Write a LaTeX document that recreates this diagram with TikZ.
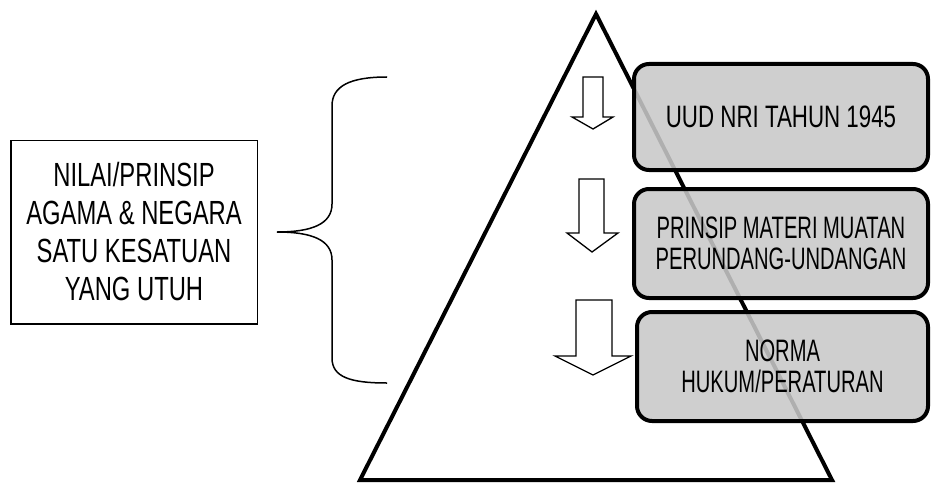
\documentclass[tikz,border=0pt]{standalone}
\usepackage{fontspec}
\setmainfont{Liberation Sans}[FakeStretch=0.65]
\newfontfamily\wideA{Liberation Sans}[FakeStretch=0.72]
\newfontfamily\wideB{Liberation Sans}[FakeStretch=0.71]
\begin{document}
\begin{tikzpicture}[x=1pt,y=-1pt,
  levelbox/.style={draw=black, line width=4pt, rounded corners=15pt,
     fill={rgb,255:red,200;green,200;blue,200}, fill opacity=0.88, text opacity=1,
     align=center, font=\fontsize{31}{31}\selectfont, inner sep=0pt},
  leftbox/.style={draw=black, line width=1.5pt, align=center,
     font=\wideB\fontsize{33.5}{38}\selectfont, inner sep=0pt},
  blockarrow/.style={draw=black, line width=1.3pt, fill=white, line join=miter},
  bracepath/.style={draw=black, line width=1.5pt}]
\useasboundingbox (0,0) rectangle (933,484);
% pyramid
\draw[line width=4pt] (596,14) -- (832,480) -- (360,480) -- cycle;
% level boxes
\node[levelbox, minimum width=294pt, minimum height=106pt, font=\wideA\fontsize{31}{31}\selectfont] (b1) at (781,117) {UUD NRI TAHUN 1945};
\node[levelbox, minimum width=294pt, minimum height=109pt] (b2) at (781,243.5) {PRINSIP MATERI MUATAN\\PERUNDANG-UNDANGAN};
\node[levelbox, minimum width=291pt, minimum height=109pt] (b3) at (782.5,366.5) {NORMA\\HUKUM/PERATURAN};
% left box
\node[leftbox, minimum width=246.5pt, minimum height=183.5pt] (lb) at (134,232) {NILAI/PRINSIP\\AGAMA \& NEGARA\\SATU KESATUAN\\YANG UTUH};
% brace
\draw[bracepath] (387,77) .. controls (350,77) and (332,86) .. (332,106) -- (332,204)
  .. controls (332,224) and (312,232) .. (277,232)
  .. controls (312,232) and (332,240) .. (332,260) -- (332,358)
  .. controls (332,377) and (350,383) .. (387,383);
% block arrows
\draw[blockarrow] (583,77) -- (603,77) -- (603,117) -- (613,117) -- (593,129) -- (572,117) -- (583,117) -- cycle;
\draw[blockarrow] (579,179) -- (604,179) -- (604,233) -- (618,233) -- (592,252) -- (567,233) -- (579,233) -- cycle;
\draw[blockarrow] (576,300) -- (612,300) -- (612,356) -- (631,356) -- (593,375) -- (555,356) -- (576,356) -- cycle;
\end{tikzpicture}
\end{document}
